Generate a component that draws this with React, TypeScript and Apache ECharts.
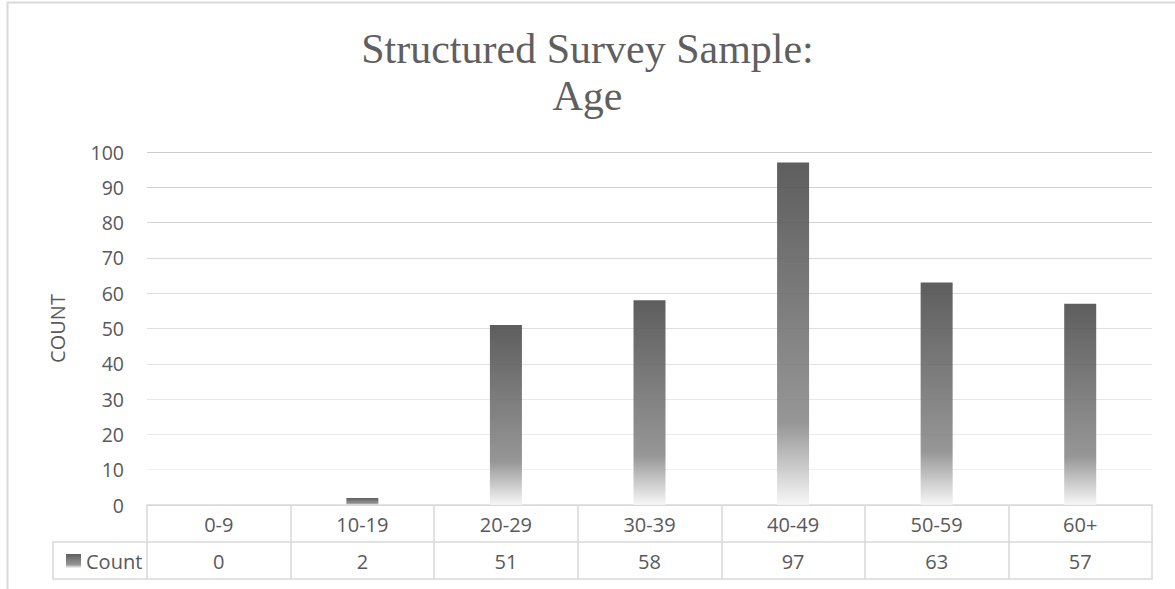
import React, { useEffect, useRef } from "react";
import * as echarts from "echarts";

// Survey respondents per age band
const ageGroups = ["0-9", "10-19", "20-29", "30-39", "40-49", "50-59", "60+"];
const counts = [0, 2, 51, 58, 97, 63, 57];
const seriesName = "Count";

const titleText = "Structured Survey Sample:\nAge";
const yAxisTitle = "COUNT";
const yMin = 0;
const yMax = 100;
const yStep = 10;

// Horizontal gridline shades, from the 0 line up to the 100 line
const gridShades = [
  "#d9d9d9", "#f1f1f1", "#ececec", "#e7e7e7", "#e3e3e3", "#dfdfdf",
  "#dbdbdb", "#d7d7d7", "#d3d3d3", "#d0d0d0", "#cdcdcd",
];

const TEXT = "#595959";
const RULE = "#d9d9d9";
const SANS = "'Open Sans', 'Noto Sans', sans-serif";

export default function App() {
  const ref = useRef<HTMLDivElement>(null);

  useEffect(() => {
    if (!ref.current) return;
    const chart = echarts.init(ref.current, undefined, { renderer: "svg" });

    const barFill = new echarts.graphic.LinearGradient(0, 0, 0, 1, [
      { offset: 0, color: "rgba(76,76,76,0.9)" },
      { offset: 0.76, color: "rgba(139,139,139,0.9)" },
      { offset: 1, color: "rgba(246,246,246,0.9)" },
    ]);

    const tableLabel = {
      interval: 0,
      margin: 8,
      fontFamily: SANS,
      fontSize: 20,
      lineHeight: 22,
      color: TEXT,
    };

    chart.setOption({
      animation: false,
      backgroundColor: "#ffffff",
      title: {
        text: titleText,
        left: "center",
        top: 20,
        textStyle: {
          fontFamily: "'Liberation Serif', serif",
          fontSize: 42,
          fontWeight: "normal",
          color: "#5f5f5f",
          lineHeight: 47,
        },
      },
      legend: {
        data: [seriesName],
        left: 61,
        top: 546,
        icon: "rect",
        itemWidth: 15,
        itemHeight: 14,
        itemGap: 5,
        selectedMode: false,
        textStyle: { fontFamily: SANS, fontSize: 20, color: TEXT },
      },
      grid: { left: 147, right: 23, top: 152, bottom: 84 },
      xAxis: [
        {
          type: "category",
          data: ageGroups,
          position: "bottom",
          axisLine: { show: true, lineStyle: { color: RULE, width: 1.5 } },
          axisTick: {
            show: true,
            alignWithLabel: false,
            interval: 0,
            length: 74,
            lineStyle: { color: RULE, width: 1.5 },
          },
          axisLabel: tableLabel,
        },
        {
          type: "category",
          data: counts.map((v) => String(v)),
          position: "bottom",
          offset: 37,
          axisLine: { show: true, lineStyle: { color: RULE, width: 1.5 } },
          axisTick: { show: false },
          axisLabel: tableLabel,
        },
        {
          type: "category",
          data: ageGroups,
          position: "bottom",
          offset: 74,
          axisLine: { show: true, lineStyle: { color: RULE, width: 1.5 } },
          axisTick: { show: false },
          axisLabel: { show: false },
        },
      ],
      yAxis: {
        type: "value",
        min: yMin,
        max: yMax,
        interval: yStep,
        name: yAxisTitle,
        nameLocation: "middle",
        nameGap: 80,
        nameRotate: 90,
        nameTextStyle: { fontFamily: SANS, fontSize: 20, color: TEXT },
        axisLine: { show: false },
        axisTick: { show: false },
        axisLabel: { margin: 23, fontFamily: SANS, fontSize: 19.5, color: TEXT },
        splitLine: {
          show: true,
          showMinLine: true,
          lineStyle: { color: gridShades, width: 1.2 },
        },
      },
      series: [
        {
          name: seriesName,
          type: "bar",
          xAxisIndex: 0,
          data: counts,
          barWidth: 32,
          itemStyle: { color: barFill },
        },
      ],
      graphic: [
        {
          type: "rect",
          silent: true,
          shape: { x: 7.5, y: 2.5, width: 1300, height: 800 },
          style: { fill: "none", stroke: RULE, lineWidth: 2 },
        },
        {
          type: "line",
          silent: true,
          shape: { x1: 53, y1: 542, x2: 147, y2: 542 },
          style: { stroke: RULE, lineWidth: 1.5 },
        },
        {
          type: "line",
          silent: true,
          shape: { x1: 53, y1: 579, x2: 147, y2: 579 },
          style: { stroke: RULE, lineWidth: 1.5 },
        },
        {
          type: "line",
          silent: true,
          shape: { x1: 53, y1: 541.25, x2: 53, y2: 579.75 },
          style: { stroke: RULE, lineWidth: 1.5 },
        },
      ],
    });

    return () => chart.dispose();
  }, []);

  return (
    <div
      ref={ref}
      style={{ position: "fixed", left: 0, top: 0, width: 1175, height: 589 }}
    />
  );
}
